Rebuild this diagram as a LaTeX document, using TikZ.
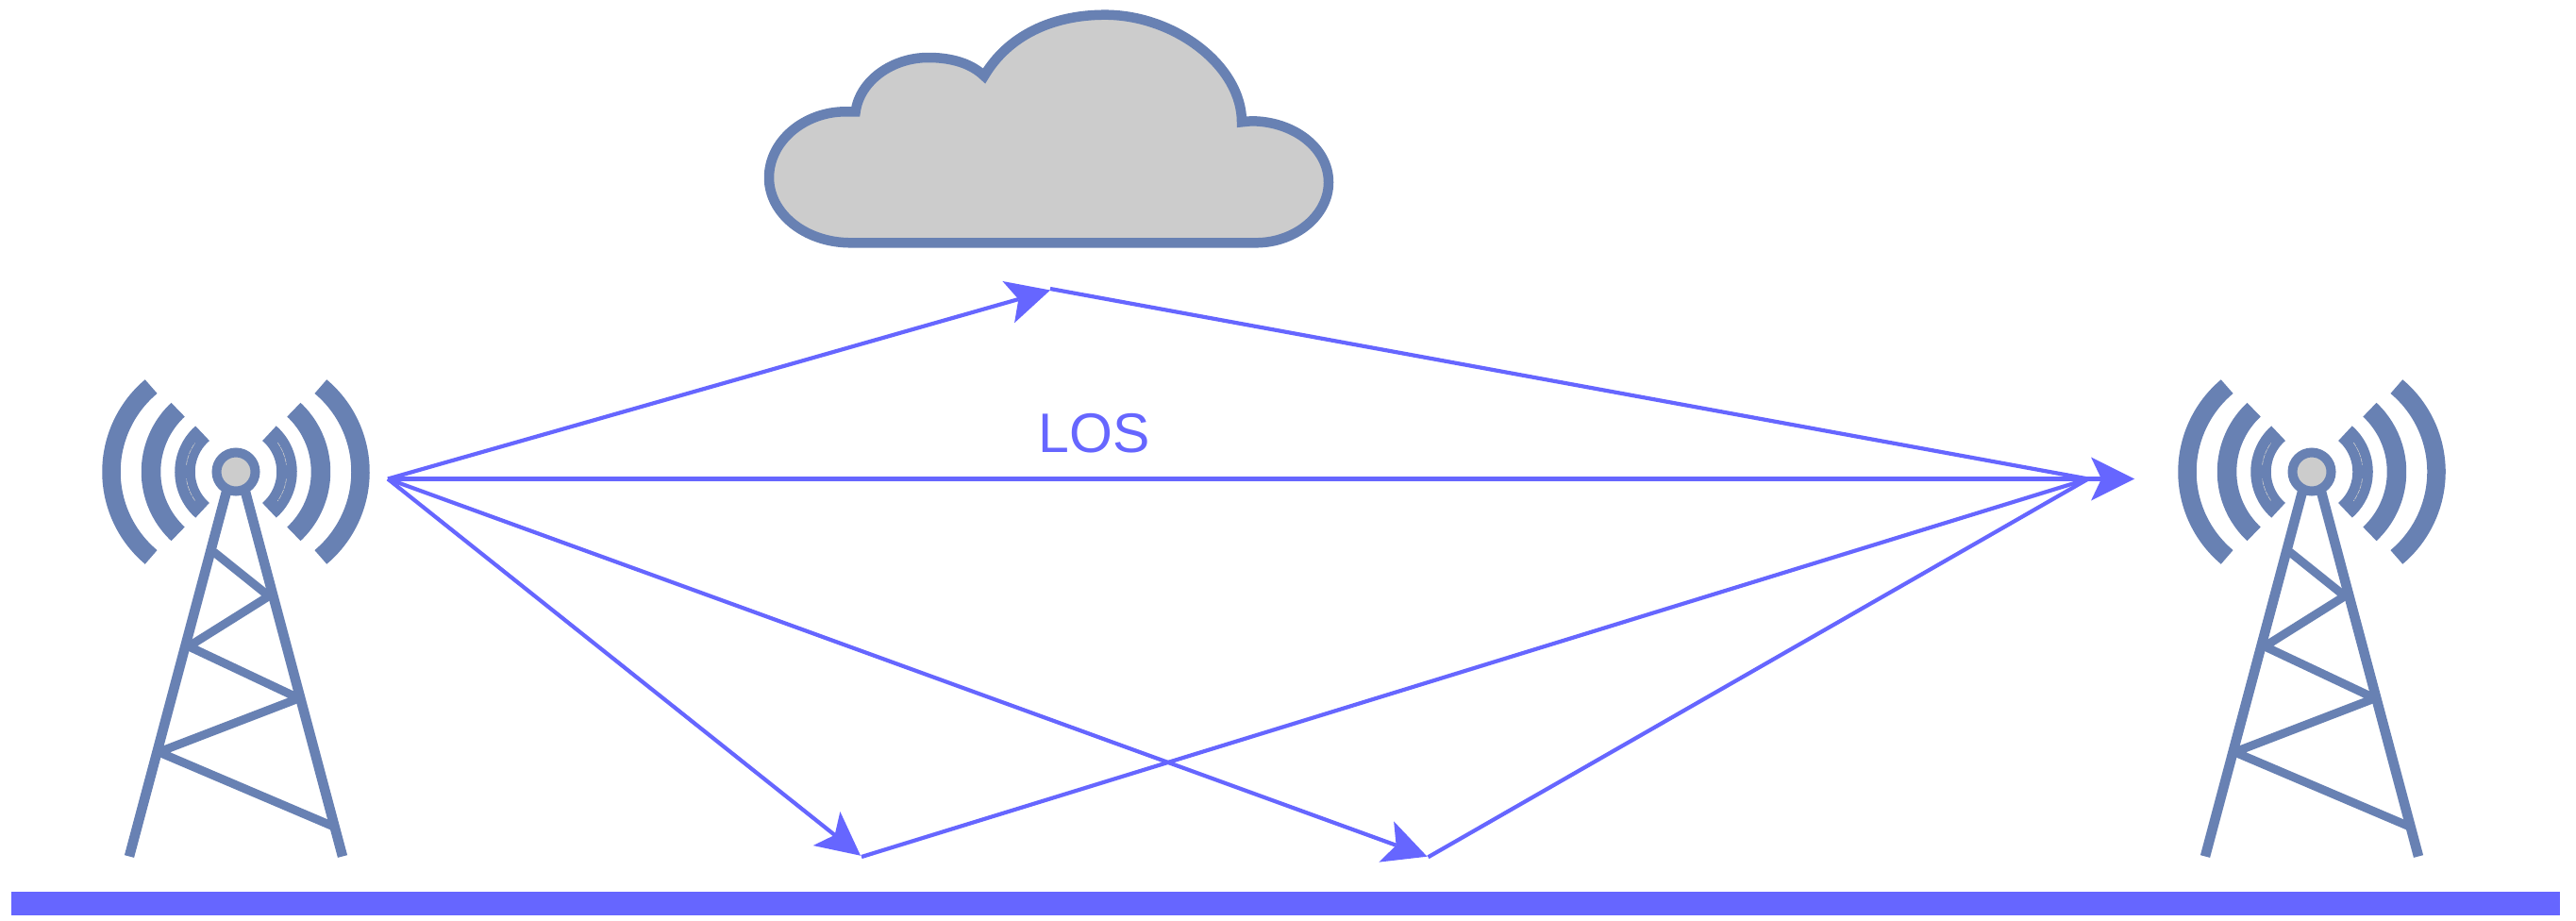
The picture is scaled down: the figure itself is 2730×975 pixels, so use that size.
\documentclass[tikz,border=0pt]{standalone}
\usepackage{fontspec}
\setmainfont{Liberation Sans}
\usetikzlibrary{arrows.meta}
\definecolor{towerblue}{HTML}{6881B3}
\definecolor{raycol}{HTML}{6666FF}
\definecolor{fillgray}{HTML}{CCCCCC}
\tikzset{
  x=1pt,y=-1pt,
  ray/.style={draw=raycol,line width=4.2pt},
  rayhead/.style={ray,-{Stealth[length=46pt,width=46pt,inset=11pt,line width=0pt,fill=raycol]}},
  waveband/.style={draw=towerblue,line cap=butt},
  leg/.style={draw=towerblue,line width=10.5pt,line cap=butt},
  brace/.style={draw=towerblue,line width=9pt,line cap=butt,line join=bevel},
  hairline/.style={draw=fillgray,line width=0.6pt,dash pattern=on 5pt off 1pt},
  towerpic/.pic={
    \draw[leg] (-10,21) -- (-113,407.5);
    \draw[leg] (10,21) -- (113,407.5);
    \draw[brace] (-23.3,85) -- (35,131.7) -- (-50,185) -- (66.7,240) -- (-81.7,297) -- (105,376.5);
    \draw[waveband,line width=19.5pt] ([shift=(130:118)]-14,0) arc[start angle=130,end angle=230,radius=118];
    \draw[waveband,line width=19.5pt] ([shift=(-50:118)]14,0) arc[start angle=-50,end angle=50,radius=118];
    \foreach \r/\w/\a in {90/20.5/47,54/21.5/49}{
      \draw[waveband,line width=\w pt] ([shift=(180-\a:\r)]0,0) arc[start angle=180-\a,end angle=180+\a,radius=\r];
      \draw[waveband,line width=\w pt] ([shift=(-\a:\r)]0,0) arc[start angle=-\a,end angle=\a,radius=\r];
    }
    \draw[hairline] ([shift=(145:53)]0,0) arc[start angle=145,end angle=172,radius=53];
    \draw[hairline] ([shift=(188:53)]0,0) arc[start angle=188,end angle=215,radius=53];
    \draw[hairline] ([shift=(-35:54)]0,0) arc[start angle=-35,end angle=-8,radius=54];
    \draw[hairline] ([shift=(8:54)]0,0) arc[start angle=8,end angle=35,radius=54];
    \draw[draw=towerblue,fill=fillgray,line width=10pt] (0,0) circle[radius=20.5];
  }
}
\begin{document}
\begin{tikzpicture}
\useasboundingbox (0,0) rectangle (2730,975);
\fill[white] (0,0) rectangle (2730,975);
% ground
\node[fill=raycol,inner sep=0pt,minimum width=2700.5pt,minimum height=25pt,anchor=north west] (ground) at (12,945) {};
% towers
\pic (lefttower) at (250,500) {towerpic};
\pic (righttower) at (2450,500) {towerpic};
% cloud
\draw[draw=towerblue,fill=fillgray,line width=10.5pt,line join=miter]
  (901.7,257.3) -- (1331,257.3)
  .. controls (1373,257.3) and (1408,228) .. (1408,193.3)
  .. controls (1408,156) and (1370,128.3) .. (1326,128.3) -- (1316,129.3)
  .. controls (1316,70) and (1245,15.7) .. (1171,15.7)
  .. controls (1115,15.7) and (1068,38) .. (1043,80.5)
  .. controls (1029,67) and (1008,61) .. (983.8,61)
  .. controls (945,61) and (911,86) .. (906.7,118.3)
  -- (896,118.3)
  .. controls (853,118.3) and (815,149) .. (815,188.3)
  .. controls (815,226) and (853,257.3) .. (901.7,257.3) -- cycle;
% ray anchor points
\coordinate (tx) at (411,507.5);
\coordinate (rxtip) at (2262,507.5);
\coordinate (rxjoin) at (2213,507.5);
\coordinate (skytip) at (1113,307.5);
\coordinate (skyout) at (1113,306);
\coordinate (grAtip) at (912,906.7);
\coordinate (grAout) at (913,908);
\coordinate (grBtip) at (1512.5,907.7);
\coordinate (grBout) at (1513.5,908.3);
% rays
\draw[rayhead] (tx) -- (rxtip);
\draw[rayhead] (tx) -- (skytip);
\draw[ray] (skyout) -- (rxjoin);
\draw[rayhead] (tx) -- (grAtip);
\draw[ray] (grAout) -- (rxjoin);
\draw[rayhead] (tx) -- (grBtip);
\draw[ray] (grBout) -- (rxjoin);
% label
\node[text=raycol,font=\fontsize{59pt}{59pt}\selectfont,inner sep=0pt] (los) at (1160,459) {LOS};
\end{tikzpicture}
\end{document}
